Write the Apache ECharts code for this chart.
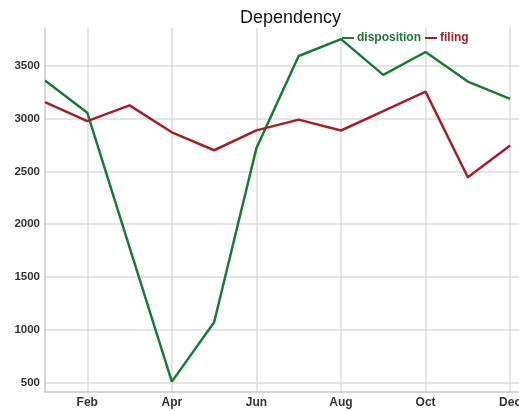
<!DOCTYPE html>
<html>
<head>
<meta charset="utf-8">
<title>Dependency</title>
<script src="https://cdn.jsdelivr.net/npm/echarts@6/dist/echarts.min.js"></script>
<style>
  html, body { margin: 0; padding: 0; background: #fff; }
  #chart { width: 519px; height: 411px; }
</style>
</head>
<body>
<div id="chart"></div>
<script>
// monthly values
var months = ['Jan', 'Feb', 'Mar', 'Apr', 'May', 'Jun', 'Jul', 'Aug', 'Sep', 'Oct', 'Nov', 'Dec'];
var disposition = [3360, 3055, 1780, 510, 1072, 2720, 3592, 3752, 3413, 3630, 3350, 3186];
var filing = [3155, 2975, 3125, 2870, 2700, 2888, 2990, 2887, 3070, 3255, 2445, 2745];
// months that get a label and a vertical grid line (Feb, Apr, ...)
var labelled = [1, 3, 5, 7, 9, 11];

var green = '#1c7a38';
var red = '#a3202a';

var chart = echarts.init(document.getElementById('chart'));

// x is the month index so the plot can run a little past Dec, as in the picture
var toPairs = function (arr) { return arr.map(function (v, i) { return [i, v]; }); };

var option = {
  animation: false,
  title: {
    text: 'Dependency',
    left: 235, top: 4,
    textStyle: { fontFamily: 'Liberation Sans', fontSize: 18, fontWeight: 'normal', color: '#111' }
  },
  legend: {
    left: 337, top: 27,
    itemGap: 4,
    itemWidth: 12, itemHeight: 2,
    icon: 'rect',
    textStyle: { fontFamily: 'Liberation Sans', fontSize: 12, fontWeight: 'bold', padding: [0, 0, 0, -2] },
    data: [
      { name: 'disposition', textStyle: { color: green } },
      { name: 'filing', textStyle: { color: red } }
    ]
  },
  grid: { left: 45, right: 0, top: 28, bottom: 19, outerBoundsMode: 'none' },
  xAxis: {
    type: 'value',
    min: 0, max: 11.21,
    axisLine: { show: true, onZero: false, lineStyle: { color: '#c8c8c8', width: 1.5 } },
    axisTick: { show: false, customValues: labelled },
    axisLabel: {
      customValues: labelled,
      formatter: function (v) { return months[v]; },
      margin: 5,
      fontFamily: 'Liberation Sans', fontSize: 12, fontWeight: 'bold', color: '#333'
    },
    splitLine: { show: true, customValues: labelled, lineStyle: { color: '#dcdcdc', width: 1.5 } }
  },
  yAxis: {
    type: 'value',
    min: 412, max: 3857,
    axisLine: { show: true, lineStyle: { color: '#c8c8c8', width: 1.5 } },
    axisTick: { show: false },
    axisLabel: {
      showMinLabel: false, showMaxLabel: false,
      margin: 5,
      formatter: function (v) { return String(v); },
      fontFamily: 'Liberation Sans', fontSize: 11.5, fontWeight: 'bold', color: '#333'
    },
    splitLine: { showMinLine: false, showMaxLine: false, lineStyle: { color: '#dcdcdc', width: 1.5 } }
  },
  series: [
    {
      name: 'disposition', type: 'line', data: toPairs(disposition),
      symbol: 'none', color: green,
      lineStyle: { width: 2.5, color: green }
    },
    {
      name: 'filing', type: 'line', data: toPairs(filing),
      symbol: 'none', color: red,
      lineStyle: { width: 2.5, color: red }
    }
  ]
};

chart.setOption(option);
</script>
</body>
</html>
